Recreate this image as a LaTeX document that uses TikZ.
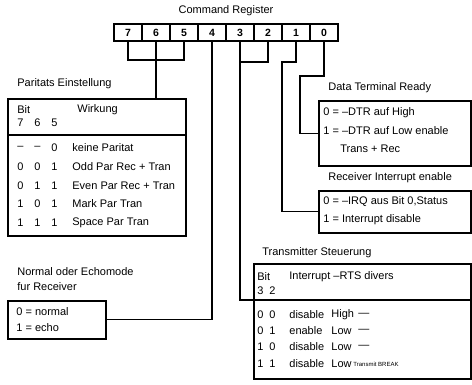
\documentclass[tikz,border=0pt]{standalone}
\usepackage{fontspec}
\setmainfont{Liberation Sans}
\usepackage{tikz}
\usetikzlibrary{positioning, calc}

\begin{document}
\begin{tikzpicture}[x=1pt, y=-1pt, thick,
    cell/.style={draw, line width=1.3pt, minimum width=28pt, minimum height=17pt, inner sep=0pt, font=\fontsize{10.5}{12}\selectfont\bfseries},
    infobox/.style={draw, line width=1.6pt, inner sep=0pt, anchor=north west},
    lbl/.style={anchor=west, inner sep=0pt, font=\fontsize{11}{13}\selectfont},
    wire/.style={line width=1.2pt}]
    \useasboundingbox (0,0) rectangle (472,385);
    % Command register
    \node[lbl, anchor=center] (title) at (226,11) {Command Register};
    \foreach \b in {7,...,0}
        \node[cell] (r\b) at ({128+28*(7-\b)},32.5) {\b};

    % Boxes
    \node[infobox, minimum width=178pt, minimum height=137pt] (par) at (7,98) {};
    \node[infobox, minimum width=98pt, minimum height=38pt] (echo) at (7,300) {};
    \node[infobox, minimum width=152pt, minimum height=65pt] (dtr) at (318,100) {};
    \node[infobox, minimum width=152pt, minimum height=42pt] (rie) at (318,190) {};
    \node[infobox, minimum width=217pt, minimum height=115pt] (tx) at (253,263) {};

    % Paritaet
    \coordinate (psep) at (7,135);
    \draw[line width=1.6pt] (psep) -- (par.east |- psep);
    \node[lbl] (parname) at (17,84) {Paritats Einstellung};
    \node[lbl] (parbit) at (17,110) {Bit};
    \node[lbl] (parwk) at (77,110) {Wirkung};
    \foreach \b/\x in {7/17,6/34,5/51}
        \node[lbl] (ph\b) at (\x,123) {\b};
    \foreach \a/\bb/\c/\w/\y [count=\i] in {--/--/0/keine Paritat/148, 0/0/1/Odd Par Rec + Tran/167,
        0/1/1/Even Par Rec + Tran/186, 1/0/1/Mark Par Tran/204, 1/1/1/Space Par Tran/223}
    {
        \node[lbl] (pa\i) at (17,\y) {\a};
        \node[lbl] (pb\i) at (34,\y) {\bb};
        \node[lbl] (pc\i) at (51,\y) {\c};
        \node[lbl] (pw\i) at (72,\y) {\w};
    }

    % Normal / Echo
    \node[lbl] (ecname) at (17,272) {Normal oder Echomode};
    \node[lbl] (ecname2) at (17,287) {fur Receiver};
    \node[lbl] (ec0) at (16,312) {0 = normal};
    \node[lbl] (ec1) at (16,328) {1 = echo};

    % Data Terminal Ready
    \node[lbl] (dtrname) at (328,88) {Data Terminal Ready};
    \node[lbl] (dtr0) at (323,113) {0 = --DTR auf High};
    \node[lbl] (dtr1) at (323,131) {1 = --DTR auf Low enable};
    \node[lbl] (dtr2) at (340,149) {Trans + Rec};

    % Receiver interrupt
    \node[lbl] (riename) at (328,178) {Receiver Interrupt enable};
    \node[lbl] (rie0) at (323,202) {0 = --IRQ aus Bit 0,Status};
    \node[lbl] (rie1) at (323,220) {1 = Interrupt disable};

    % Transmitter
    \node[lbl] (txname) at (262,253) {Transmitter Steuerung};
    \node[lbl] (txbit) at (257,277) {Bit};
    \node[lbl] (txhead) at (289,277) {Interrupt --RTS divers};
    \node[lbl] (tx3) at (257,291) {3};
    \node[lbl] (tx2) at (269,291) {2};
    \coordinate (tsep) at (253,300);
    \draw[line width=1.6pt] (tsep) -- (tx.east |- tsep);
    \foreach \a/\bb/\ir/\rt/\y [count=\i] in {0/0/disable/High/315, 0/1/enable/Low/331,
        1/0/disable/Low/347, 1/1/disable/Low/364}
    {
        \node[lbl] (ta\i) at (257,\y) {\a};
        \node[lbl] (tb\i) at (269,\y) {\bb};
        \node[lbl] (ti\i) at (289,\y) {\ir};
        \node[lbl] (tr\i) at (331,\y) {\rt};
    }
    \foreach \i/\y in {1/315,2/331,3/347}
        \node[lbl] (td\i) at (358,\y) {---};
    \node[lbl, font=\fontsize{6}{7}\selectfont] (tbrk) at (353,364) {Transmit BREAK};

    % Connectors
    \coordinate (pj) at (156,60);
    \draw[wire] (r7.south) |- (pj) -| (r5.south);
    \draw[wire] (r6.south) -- (par.north -| r6.south);
    \draw[wire] (r4.south) |- (echo.east);
    \coordinate (tj) at (254,62);
    \draw[wire] (r3.south) |- (tj) -| (r2.south);
    \draw[wire] (r3.south) |- (tsep);
    \coordinate (k1) at (282,62);
    \draw[wire] (r1.south) |- (k1) |- (rie.west);
    \coordinate (k0) at (300,76);
    \draw[wire] (r0.south) |- (k0) |- (dtr.west);
\end{tikzpicture}
\end{document}
